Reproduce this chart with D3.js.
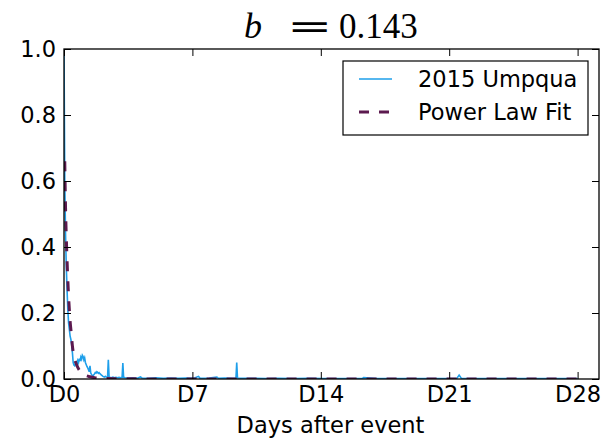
<!DOCTYPE html>
<html><head><meta charset="utf-8">
<script src="https://cdn.jsdelivr.net/npm/d3@7"></script>
<style>body{margin:0;background:#fff}svg{display:block}</style>
</head><body><svg id="c" width="601" height="439" font-family="DejaVu Sans, sans-serif"></svg>
<script>
// Observed series (hours after event, normalized value)
const obsHours = [0,1,2,3,4,5,6,7,8,9,10,11,12,13,14,15,16,17,18,19,20,21,22,23,24,25,26,27,28,29,30,31,32,33,34,35,36,37,38,39,40,41,42,43,44,45,46,47,48,49,50,51,52,53,54,55,56,57,58,59,60,62,64,66,68,70,72,74,76,77,78,80,84,90,96,100,102,110,120,130,140,150,160,170,176,178,190,200,202,210,220,225,226,227,235,250,265,280,300,320,340,360,390,392,410,440,470,500,514,517,520,540,570,600,630,672];
const obsValues = [1.0,0.6,0.44,0.34,0.27,0.21,0.17,0.15,0.13,0.12,0.105,0.08,0.05,0.042,0.04,0.046,0.05,0.045,0.056,0.05,0.062,0.054,0.066,0.06,0.072,0.068,0.058,0.064,0.05,0.044,0.038,0.034,0.028,0.022,0.04,0.018,0.014,0.011,0.01,0.013,0.016,0.02,0.018,0.022,0.02,0.017,0.019,0.016,0.014,0.012,0.01,0.008,0.007,0.006,0.008,0.006,0.006,0.007,0.058,0.006,0.005,0.004,0.006,0.004,0.005,0.004,0.005,0.004,0.005,0.048,0.005,0.004,0.003,0.004,0.002,0.006,0.003,0.002,0.004,0.002,0.003,0.002,0.003,0.002,0.008,0.002,0.003,0.006,0.002,0.003,0.002,0.003,0.05,0.003,0.002,0.002,0.001,0.002,0.001,0.002,0.001,0.001,0.001,0.004,0.001,0.001,0.001,0.001,0.002,0.012,0.002,0.001,0.001,0.001,0.001,0.001];
// Power law fit (hours, value)
const fitHours = [1,2,3,4,5,6,7,8,9,10,11,12,14,16,18,20,24,28,34,40,50,70,120,672];
const fitValues = [0.66,0.52,0.43,0.36,0.30,0.25,0.21,0.175,0.15,0.125,0.1,0.082,0.06,0.046,0.035,0.027,0.016,0.011,0.007,0.004,0.002,0.001,0.0003,0.0];
const xTicks = [0,168,336,504,672];
const xTickLabels = ["D0","D7","D14","D21","D28"];
const yTicks = [0,0.2,0.4,0.6,0.8,1.0];
const seriesNames = ["2015 Umpqua","Power Law Fit"];
const titleB = "0.143";

const svg = d3.select("#c");
const L=64,R=599,T=49,B=379;
const x = d3.scaleLinear().domain([0,700]).range([L,R]);
const y = d3.scaleLinear().domain([0,1]).range([B,T]);
const blue="#1e9fea", purple="#5c1a4f";

svg.append("clipPath").attr("id","cp").append("rect").attr("x",L).attr("y",T).attr("width",R-L).attr("height",B-T);
const obs = obsHours.map((h,i)=>[h,obsValues[i]]);
const fit = fitHours.map((h,i)=>[h,fitValues[i]]);
const line = d3.line().x(d=>x(d[0])).y(d=>y(d[1]));
const g = svg.append("g").attr("clip-path","url(#cp)");
g.append("path").datum(obs).attr("d",line).attr("fill","none").attr("stroke",blue).attr("stroke-width",1.6);
g.append("path").datum(fit).attr("d",line.curve(d3.curveMonotoneX)).attr("fill","none").attr("stroke",purple).attr("stroke-width",3).attr("stroke-dasharray","10,10");

function style(sel){sel.select(".domain").remove();sel.selectAll("line").attr("stroke","#000").attr("stroke-width",1);sel.selectAll("text").style("font-size","22.5px").attr("fill","#000").style("font-family","DejaVu Sans");}
svg.append("g").attr("transform",`translate(0,${B})`).call(d3.axisBottom(x).tickValues(xTicks).tickFormat((d,i)=>xTickLabels[i]).tickSize(-7).tickPadding(7)).call(style);
svg.append("g").attr("transform",`translate(0,${T})`).call(d3.axisTop(x).tickValues(xTicks).tickFormat("").tickSize(-7)).call(style);
svg.append("g").attr("transform",`translate(${L},0)`).call(d3.axisLeft(y).tickValues(yTicks).tickFormat(d3.format(".1f")).tickSize(-7).tickPadding(8)).call(style);
svg.append("g").attr("transform",`translate(${R},0)`).call(d3.axisRight(y).tickValues(yTicks).tickFormat("").tickSize(-7)).call(style);
svg.append("rect").attr("x",L).attr("y",T).attr("width",R-L).attr("height",B-T).attr("fill","none").attr("stroke","#000").attr("stroke-width",1.3);

svg.append("text").attr("x",(L+R)/2-1).attr("y",433).attr("text-anchor","middle").style("font-size","22.5px").style("font-family","DejaVu Sans").text("Days after event");

const tf = "'Liberation Serif', serif";
svg.append("text").attr("x",244).attr("y",38).style("font-family",tf).style("font-size","36px").style("font-style","italic").text("b");
svg.append("text").attr("transform","translate(287,38) scale(1.55,1)").style("font-family","'DejaVu Serif', serif").style("font-size","35px").text("=");
svg.append("text").attr("x",339).attr("y",38).style("font-family",tf).style("font-size","35px").text(titleB);

// legend
const lg = svg.append("g");
lg.append("rect").attr("x",343).attr("y",61).attr("width",245).attr("height",74).attr("fill","#fff").attr("stroke","#000").attr("stroke-width",1.2);
lg.append("line").attr("x1",359).attr("x2",392).attr("y1",79).attr("y2",79).attr("stroke",blue).attr("stroke-width",1.6);
lg.append("line").attr("x1",359).attr("x2",392).attr("y1",112).attr("y2",112).attr("stroke",purple).attr("stroke-width",3).attr("stroke-dasharray","10,10");
lg.selectAll("text.l").data(seriesNames).enter().append("text").attr("class","l").attr("x",418).attr("y",(d,i)=>79+i*33).attr("dy","0.36em").style("font-size","22.5px").style("font-family","DejaVu Sans").text(d=>d);
</script></body></html>
